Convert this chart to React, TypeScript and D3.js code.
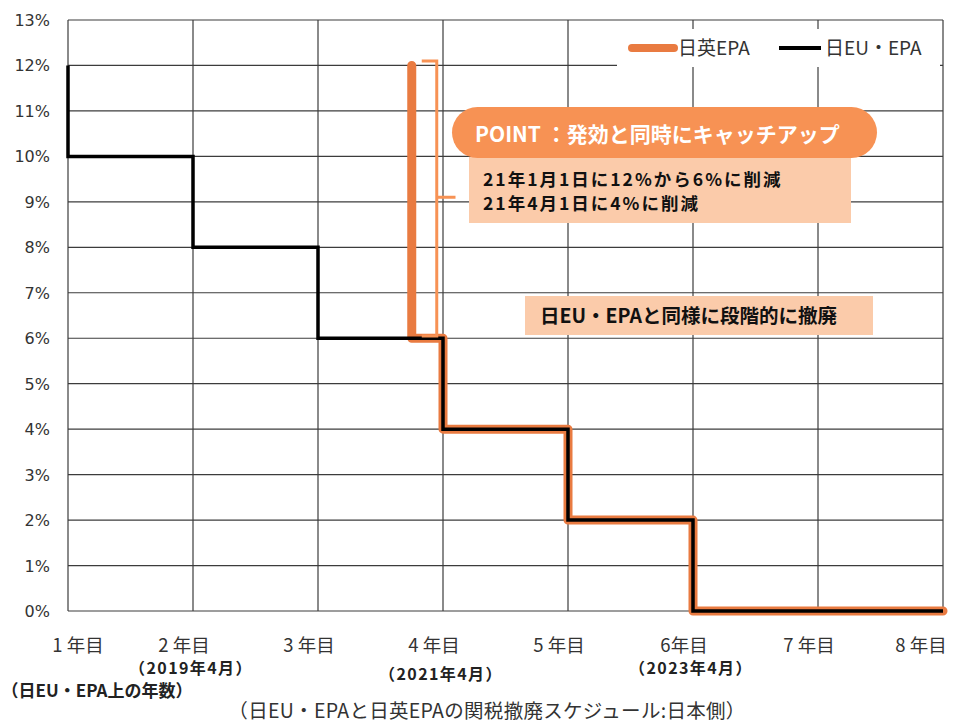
import React, { useEffect, useRef } from "react";
import * as d3 from "d3";

// x axis: years of the Japan-EU EPA schedule
const years = [1, 2, 3, 4, 5, 6, 7, 8];
const yearLabels = ["1 年目", "2 年目", "3 年目", "4 年目", "5 年目", "6年目", "7 年目", "8 年目"];
const subLabels = [
  { year: 2, text: "（2019年4月）", dy: 674 },
  { year: 4, text: "（2021年4月）", dy: 680 },
  { year: 6, text: "（2023年4月）", dy: 674 },
];
const pctTicks = [0, 1, 2, 3, 4, 5, 6, 7, 8, 9, 10, 11, 12, 13];

// step points (year, tariff %)
const euYears = [1, 1, 2, 3, 4, 5, 6, 8];
const euRates = [12, 10, 8, 6, 4, 2, 0, 0];
const ukYears = [3.75, 3.75, 4, 5, 6, 8];
const ukRates = [12, 6, 4, 2, 0, 0];

const ORANGE = "#E97B41";
const FONT = "'Noto Sans CJK JP', 'Noto Sans', sans-serif";

export default function App() {
  const ref = useRef<SVGSVGElement>(null);

  useEffect(() => {
    const svg = d3.select(ref.current);
    svg.selectAll("*").remove();

    const x = d3.scaleLinear().domain([1, 8]).range([68, 943]);
    const y = d3.scaleLinear().domain([0, 13]).range([611, 20]);

    const g = svg.append("g");

    // grid
    g.selectAll(".hgrid")
      .data(pctTicks)
      .enter()
      .append("line")
      .attr("x1", x(1))
      .attr("x2", x(8))
      .attr("y1", (d) => y(d))
      .attr("y2", (d) => y(d))
      .attr("stroke", "#3c3c3c")
      .attr("stroke-width", 1.2);
    g.selectAll(".vgrid")
      .data(years)
      .enter()
      .append("line")
      .attr("x1", (d) => x(d))
      .attr("x2", (d) => x(d))
      .attr("y1", y(13))
      .attr("y2", y(0))
      .attr("stroke", "#3c3c3c")
      .attr("stroke-width", 1.2);

    // y labels
    g.selectAll(".ylab")
      .data(pctTicks)
      .enter()
      .append("text")
      .attr("x", 50)
      .attr("y", (d) => y(d) + 6)
      .attr("text-anchor", "end")
      .attr("font-size", 16)
      .attr("font-family", "'DejaVu Sans', sans-serif")
      .attr("fill", "#333")
      .text((d) => `${d}%`);

    // x labels
    g.selectAll(".xlab")
      .data(years)
      .enter()
      .append("text")
      .attr("x", (d) => Math.max(78, Math.min(921, x(d) - 9)))
      .attr("y", 652)
      .attr("text-anchor", "middle")
      .attr("font-size", 18.5)
      .attr("font-family", FONT)
      .attr("fill", "#333")
      .text((d, i) => yearLabels[i]);

    g.selectAll(".sublab")
      .data(subLabels)
      .enter()
      .append("text")
      .attr("x", (d) => x(d.year) - 2)
      .attr("y", (d) => d.dy)
      .attr("text-anchor", "middle")
      .attr("font-size", 16)
      .attr("letter-spacing", 1.4)
      .attr("font-weight", "bold")
      .attr("font-family", FONT)
      .attr("fill", "#222")
      .text((d) => d.text);

    g.append("text")
      .attr("x", 97)
      .attr("y", 697)
      .attr("text-anchor", "middle")
      .attr("font-size", 17)
      .attr("font-weight", "bold")
      .attr("font-family", FONT)
      .attr("fill", "#222")
      .text("（日EU・EPA上の年数）");

    g.append("text")
      .attr("x", 487)
      .attr("y", 718)
      .attr("text-anchor", "middle")
      .attr("font-size", 19.5)
      .attr("letter-spacing", 0.3)
      .attr("font-family", FONT)
      .attr("fill", "#333")
      .text("（日EU・EPAと日英EPAの関税撤廃スケジュール:日本側）");

    // lines
    const step = d3.line().curve(d3.curveStepAfter);
    const ukPts = ukYears.map((t, i) => [x(t), y(ukRates[i])] as [number, number]);
    const euPts = euYears.map((t, i) => [x(t), y(euRates[i])] as [number, number]);

    g.append("path")
      .attr("d", step(ukPts))
      .attr("fill", "none")
      .attr("stroke", ORANGE)
      .attr("stroke-width", 9)
      .attr("stroke-linejoin", "round")
      .attr("stroke-linecap", "round");

    g.append("path")
      .attr("d", step(euPts))
      .attr("fill", "none")
      .attr("stroke", "#000")
      .attr("stroke-width", 3.5);

    // bracket
    const bx0 = x(3.83);
    const bx1 = x(3.95);
    const bx2 = x(4.1);
    const by0 = y(12.1);
    const by1 = y(6.05);
    const bym = y(9.1);
    g.append("path")
      .attr("d", `M${bx0},${by0} H${bx1} V${by1} H${bx0} M${bx1},${bym} H${bx2}`)
      .attr("fill", "none")
      .attr("stroke", "#F79254")
      .attr("stroke-width", 3);

    // legend
    g.append("rect")
      .attr("x", 617)
      .attr("y", 29)
      .attr("width", 323)
      .attr("height", 38)
      .attr("fill", "#fff");
    const legend = [
      { name: "日英EPA", color: ORANGE, w: 8, x0: 632 },
      { name: "日EU・EPA", color: "#000", w: 4, x0: 779 },
    ];
    legend.forEach((l) => {
      g.append("line")
        .attr("x1", l.x0)
        .attr("x2", l.x0 + 42)
        .attr("y1", 48)
        .attr("y2", 48)
        .attr("stroke", l.color)
        .attr("stroke-width", l.w)
        .attr("stroke-linecap", l.w > 5 ? "round" : "butt");
      g.append("text")
        .attr("x", l.x0 + 46)
        .attr("y", 55)
        .attr("font-size", 19)
        .attr("font-family", FONT)
        .attr("fill", "#333")
        .text(l.name);
    });

    // annotations
    g.append("rect")
      .attr("x", 469)
      .attr("y", 157)
      .attr("width", 382)
      .attr("height", 66)
      .attr("fill", "#FBCBAA");
    g.append("rect")
      .attr("x", 452)
      .attr("y", 107)
      .attr("width", 425)
      .attr("height", 51)
      .attr("rx", 25.5)
      .attr("fill", "#F79254");
    g.append("text")
      .attr("x", 475)
      .attr("y", 142)
      .attr("font-size", 21)
      .attr("font-weight", "bold")
      .attr("font-family", FONT)
      .attr("fill", "#fff")
      .text("POINT ：発効と同時にキャッチアップ");
    ["21年1月1日に12%から6%に削減", "21年4月1日に4%に削減"].forEach((t, i) => {
      g.append("text")
        .attr("x", 483)
        .attr("y", 186 + i * 24)
        .attr("font-size", 17.5)
        .attr("letter-spacing", 2)
        .attr("font-weight", "bold")
        .attr("font-family", FONT)
        .attr("fill", "#111")
        .text(t);
    });
    g.append("rect")
      .attr("x", 525)
      .attr("y", 296)
      .attr("width", 348)
      .attr("height", 39)
      .attr("fill", "#FBCBAA");
    g.append("text")
      .attr("x", 540)
      .attr("y", 323)
      .attr("font-size", 19.5)
      .attr("font-weight", "bold")
      .attr("font-family", FONT)
      .attr("fill", "#111")
      .text("日EU・EPAと同様に段階的に撤廃");
  }, []);

  return (
    <svg
      ref={ref}
      width={955}
      height={723}
      style={{ position: "absolute", left: 0, top: 0, background: "#fff" }}
    />
  );
}
